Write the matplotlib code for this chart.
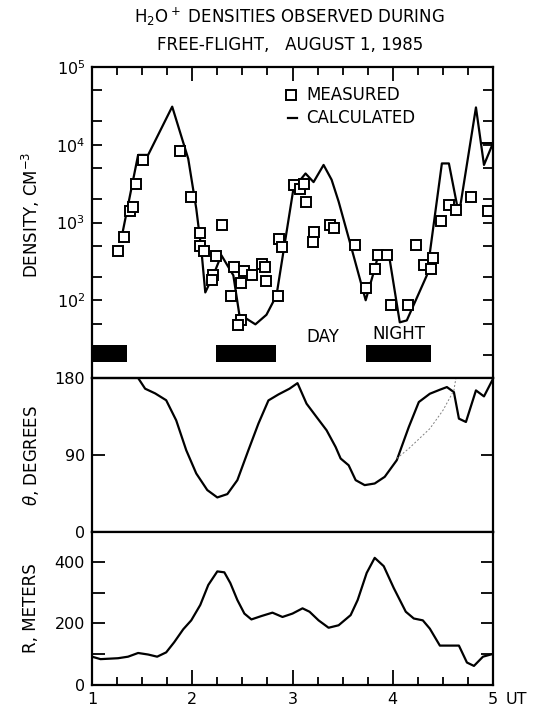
import matplotlib
matplotlib.use("Agg")
import matplotlib.pyplot as plt
from matplotlib.ticker import LogLocator, FixedLocator, NullFormatter, FixedFormatter

# ---------------- data ----------------
meas_ut = [1.26, 1.32, 1.38, 1.41, 1.44, 1.51, 1.88, 1.99, 2.08, 2.08, 2.12, 2.21, 2.20,
           2.24, 2.30, 2.42, 2.39, 2.49, 2.46, 2.52, 2.49, 2.60, 2.70, 2.73, 2.74, 2.86,
           2.87, 2.90, 3.01, 3.07, 3.11, 3.13, 3.21, 3.20, 3.37, 3.41, 3.62, 3.73, 3.82,
           3.85, 3.94, 3.98, 4.15, 4.23, 4.31, 4.40, 4.38, 4.48, 4.56, 4.63, 4.78, 4.95]
meas_den = [430, 650, 1400, 1580, 3100, 6300, 8300, 2100, 740, 500, 430, 210, 180,
            370, 940, 270, 115, 56, 48, 235, 166, 214, 295, 265, 177, 115,
            620, 485, 3000, 2700, 3100, 1850, 760, 560, 930, 850, 520, 145, 255,
            385, 385, 87, 87, 520, 280, 350, 255, 1050, 1660, 1440, 2100, 1400]

calc_ut = [1.30, 1.46, 1.56, 1.80, 1.96, 2.04, 2.09, 2.13, 2.21, 2.29, 2.41, 2.47, 2.54,
           2.63, 2.74, 2.84, 3.01, 3.13, 3.21, 3.31, 3.39, 3.46, 3.58, 3.73, 3.81, 3.86,
           3.96, 4.07, 4.14, 4.34, 4.49, 4.56, 4.66, 4.83, 4.91, 5.00, 4.885]
calc_den = [690, 7400, 7400, 30900, 6600, 1510, 457, 126, 209, 380, 209, 65, 58,
            49, 65, 115, 2750, 4270, 3310, 5500, 3550, 1860, 513, 100, 229, 398,
            398, 52, 55, 209, 5750, 5750, 1260, 30200, 5500, 10500, 10500]

night_start = [1.00, 2.24, 3.73]
night_end = [1.35, 2.84, 4.38]

theta_ut = [1.00, 1.46, 1.53, 1.63, 1.74, 1.84, 1.94, 2.04, 2.15, 2.25, 2.35, 2.45, 2.56,
            2.66, 2.76, 2.86, 2.97, 3.05, 3.14, 3.24, 3.34, 3.43, 3.48, 3.56, 3.63, 3.72,
            3.82, 3.92, 4.04, 4.16, 4.26, 4.37, 4.47, 4.54, 4.61, 4.66, 4.73, 4.83, 4.91, 5.00]
theta_deg = [180, 180, 167.5, 162, 154, 130.5, 95.6, 68.4, 49, 40.4, 44.3, 60.6, 95.6,
             126.7, 153.8, 160.8, 167.5, 174, 150, 134.4, 118.9, 99.4, 85.9, 78, 60.6, 54.8,
             56.7, 64.5, 83.9, 122.7, 151.9, 161.6, 166.3, 169.4, 163.5, 132.5, 128.6, 165.5, 158.5, 179]

theta_alt_ut = [4.04, 4.16, 4.37, 4.50, 4.61, 4.63]
theta_alt_deg = [86, 97.5, 120.8, 142, 165.5, 180]

r_ut = [1.00, 1.085, 1.26, 1.36, 1.46, 1.56, 1.65, 1.74, 1.82, 1.91, 1.99, 2.08, 2.16,
        2.25, 2.32, 2.38, 2.45, 2.52, 2.59, 2.69, 2.80, 2.90, 3.00, 3.10, 3.17, 3.26,
        3.36, 3.46, 3.58, 3.65, 3.74, 3.82, 3.91, 4.01, 4.13, 4.21, 4.30, 4.37, 4.47,
        4.57, 4.66, 4.74, 4.81, 4.90, 5.00]
r_m = [92, 84, 87, 92, 104, 99, 92, 106, 139, 181, 210, 260, 325,
       369, 366, 331, 276, 232, 213, 224, 235, 221, 232, 249, 238, 210,
       186, 194, 227, 276, 364, 413, 386, 315, 238, 216, 210, 183, 128,
       128, 128, 73, 62, 92, 101]

x_major = [1, 2, 3, 4, 5]
x_labels = ["1", "2", "3", "4", "5"]

# ---------------- figure ----------------
plt.rcParams['font.family'] = ['DejaVu Sans']
fig = plt.figure(figsize=(5.33, 7.08), dpi=100)
W, H = 533.0, 708.0
L, R = 92, 493
TICK_FS = 11.5
TEXT_FS = 12

def axes_px(top, bottom):
    return fig.add_axes([L / W, 1 - bottom / H, (R - L) / W, (bottom - top) / H])

ax1 = axes_px(67, 378)
ax2 = axes_px(378, 532)
ax3 = axes_px(532, 685)

for ax in (ax1, ax2, ax3):
    for s in ax.spines.values():
        s.set_linewidth(1.6)
    ax.set_xlim(1, 5)
    ax.tick_params(which='both', direction='in', width=1.3, labelsize=TICK_FS, pad=5)

# ----- top panel -----
ax1.set_yscale('log')
ax1.set_ylim(10, 1e5)
ax1.plot(calc_ut, calc_den, color='black', lw=1.6)
ax1.plot(meas_ut, meas_den, linestyle='none', marker='s', ms=6.5, mfc='white',
         mec='black', mew=1.4)
for a, b in zip(night_start, night_end):
    ax1.axvspan(a, b, ymin=0.051, ymax=0.106, color='black', lw=0)
ax1.yaxis.set_major_locator(FixedLocator([1e2, 1e3, 1e4, 1e5]))
ax1.yaxis.set_minor_locator(LogLocator(base=10, subs=(2, 5)))
ax1.yaxis.set_minor_formatter(NullFormatter())
ax1.tick_params(axis='y', which='both', left=True, right=True, length=7)
ax1.xaxis.set_major_locator(FixedLocator(x_major))
ax1.xaxis.set_minor_locator(FixedLocator([1 + 0.25 * i for i in range(17)]))
ax1.tick_params(axis='x', which='both', top=True, bottom=False, labelbottom=False)
ax1.tick_params(axis='x', which='major', length=10)
ax1.tick_params(axis='x', which='minor', length=6)

ax1.text(3.30, 10 ** (1 + (377.5 - 337) / 77.6), "DAY", ha='center', va='center', fontsize=TEXT_FS)
ax1.text(4.06, 10 ** (1 + (377.5 - 334) / 77.6), "NIGHT", ha='center', va='center', fontsize=TEXT_FS)

# legend (drawn manually in axes fraction)
ax1.plot([0.497], [0.910], transform=ax1.transAxes, marker='s', ms=6.5, mfc='white',
         mec='black', mew=1.4, linestyle='none')
ax1.plot([0.49, 0.51], [0.835, 0.835], transform=ax1.transAxes, color='black', lw=1.6)
ax1.text(0.535, 0.910, "MEASURED", transform=ax1.transAxes, va='center', ha='left', fontsize=TEXT_FS)
ax1.text(0.535, 0.835, "CALCULATED", transform=ax1.transAxes, va='center', ha='left', fontsize=TEXT_FS)

# ----- theta panel -----
ax2.set_ylim(0, 180)
ax2.plot(theta_ut, theta_deg, color='black', lw=1.6)
ax2.plot(theta_alt_ut, theta_alt_deg, color='gray', lw=0.7, linestyle=(0, (2, 2)))
ax2.set_yticks([0, 90, 180])
ax2.tick_params(axis='y', left=True, right=True, length=9)
ax2.tick_params(axis='x', which='both', bottom=False, top=False, labelbottom=False)

# ----- R panel -----
ax3.set_ylim(0, 497)
ax3.plot(r_ut, r_m, color='black', lw=1.6)
ax3.yaxis.set_major_locator(FixedLocator([0, 100, 200, 300, 400]))
ax3.yaxis.set_major_formatter(FixedFormatter(["0", "", "200", "", "400"]))
ax3.tick_params(axis='y', left=True, right=True, length=9)
ax3.xaxis.set_major_locator(FixedLocator(x_major))
ax3.xaxis.set_major_formatter(FixedFormatter(x_labels))
ax3.xaxis.set_minor_locator(FixedLocator([1 + 0.25 * i for i in range(17)]))
ax3.tick_params(axis='x', which='major', length=11)
ax3.tick_params(axis='x', which='minor', length=6)
fig.text(516 / W, 1 - 699 / H, "UT", ha='center', va='center', fontsize=TICK_FS)

# ----- labels -----
fig.text(31 / W, 1 - 215 / H, "DENSITY, CM$^{-3}$", rotation=90, ha='center', va='center', fontsize=TEXT_FS)
fig.text(31 / W, 1 - 455 / H, r"$\theta$, DEGREES", rotation=90, ha='center', va='center', fontsize=TEXT_FS)
fig.text(31 / W, 1 - 608 / H, "R, METERS", rotation=90, ha='center', va='center', fontsize=TEXT_FS)

fig.text(289 / W, 1 - 17 / H, "H$_2$O$^+$ DENSITIES OBSERVED DURING", ha='center', va='center', fontsize=TEXT_FS)
fig.text(290 / W, 1 - 45 / H, "FREE-FLIGHT,   AUGUST 1, 1985", ha='center', va='center', fontsize=TEXT_FS)

fig.savefig("out.png", dpi=100)
